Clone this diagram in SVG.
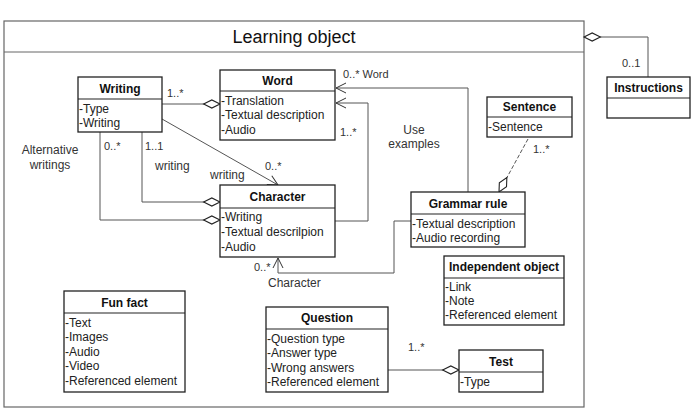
<svg xmlns="http://www.w3.org/2000/svg" width="695" height="412" viewBox="0 0 695 412">
<style>
text{font-family:"Liberation Sans",Arial,sans-serif;fill:#222}
.t{font-size:12px;font-weight:bold;text-anchor:middle;fill:#111}
.a{font-size:12px}
.l{font-size:12px;fill:#333}
.n{font-size:11px;fill:#333}
.box{fill:#fff;stroke:#222;stroke-width:1.3}
.div{stroke:#222;stroke-width:1.1}
.c{fill:none;stroke:#555;stroke-width:1}
</style>
<defs>
<marker id="dia" markerUnits="userSpaceOnUse" markerWidth="20" markerHeight="10" refX="18" refY="4.5" orient="auto" viewBox="-1 -1 20 11">
<path d="M0,4.5 L9,0 L18,4.5 L9,9 Z" fill="#fff" stroke="#222" stroke-width="1.2"/>
</marker>
<marker id="arr" markerUnits="userSpaceOnUse" markerWidth="12" markerHeight="12" refX="10" refY="5" orient="auto" viewBox="-1 -1 12 12">
<path d="M0,0 L10,5 L0,10" fill="none" stroke="#333" stroke-width="1"/>
</marker>
</defs>
<rect width="695" height="412" fill="#fff"/>
<g id="frame">
<rect x="4" y="21" width="580" height="386" fill="none" stroke="#666" stroke-width="1.2"/>
<line x1="4" y1="52" x2="584" y2="52" stroke="#666" stroke-width="1"/>
<text x="294" y="43" style="font-size:18px;text-anchor:middle;fill:#111">Learning object</text>
</g>
<g id="connectors">
<path class="c" d="M162,104 H220" marker-end="url(#dia)"/>
<path class="c" d="M142,132 V202 H220" marker-end="url(#dia)"/>
<path class="c" d="M100,132 V220 H220" marker-end="url(#dia)"/>
<path class="c" d="M162,119 L278,185" marker-end="url(#arr)"/>
<path class="c" d="M335,221 H368 V103 H336" marker-end="url(#arr)"/>
<path class="c" d="M468,192 V88 H336" marker-end="url(#arr)"/>
<path class="c" d="M411,221 H394 V273 H278 V258" marker-end="url(#arr)"/>
<path class="c" d="M528,139 L499,192" stroke-dasharray="4,2" marker-end="url(#dia)"/>
<path class="c" d="M388,370 H459" marker-end="url(#dia)"/>
<path class="c" d="M648,77 V37 H584" marker-end="url(#dia)"/>
<text class="n" x="167" y="97">1..*</text>
<text class="n" x="104" y="150">0..*</text>
<text class="n" x="145" y="150">1..1</text>
<text class="l" x="155" y="170">writing</text>
<text class="l" x="210" y="179">writing</text>
<text class="n" x="265" y="170">0..*</text>
<text class="l" x="50" y="154" text-anchor="middle">Alternative</text>
<text class="l" x="50" y="169" text-anchor="middle">writings</text>
<text class="n" x="343" y="78">0..* Word</text>
<text class="n" x="340" y="136">1..*</text>
<text class="l" x="414" y="134" text-anchor="middle">Use</text>
<text class="l" x="414" y="148" text-anchor="middle">examples</text>
<text class="n" x="533" y="153">1..*</text>
<text class="n" x="254" y="271">0..*</text>
<text class="l" x="268" y="287">Character</text>
<text class="n" x="622" y="67">0..1</text>
<text class="n" x="408" y="351">1..*</text>
</g>
<g id="writing">
<rect class="box" x="78" y="77" width="84" height="55"/>
<line class="div" x1="78" y1="99" x2="162" y2="99"/>
<text class="t" x="120" y="93">Writing</text>
<text class="a" x="79" y="113">-Type</text>
<text class="a" x="79" y="127">-Writing</text>
</g>
<g id="word">
<rect class="box" x="220" y="70" width="115" height="70"/>
<line class="div" x1="220" y1="91" x2="335" y2="91"/>
<text class="t" x="277.5" y="85">Word</text>
<text class="a" x="221" y="105">-Translation</text>
<text class="a" x="221" y="119">-Textual description</text>
<text class="a" x="221" y="134">-Audio</text>
</g>
<g id="character">
<rect class="box" x="220" y="185" width="115" height="72"/>
<line class="div" x1="220" y1="208" x2="335" y2="208"/>
<text class="t" x="277.5" y="201">Character</text>
<text class="a" x="221" y="221">-Writing</text>
<text class="a" x="221" y="236">-Textual descrilpion</text>
<text class="a" x="221" y="251">-Audio</text>
</g>
<g id="sentence">
<rect class="box" x="487" y="97" width="85" height="40"/>
<line class="div" x1="487" y1="117" x2="572" y2="117"/>
<text class="t" x="529.5" y="111">Sentence</text>
<text class="a" x="488" y="131">-Sentence</text>
</g>
<g id="grammar-rule">
<rect class="box" x="411" y="192" width="114" height="55"/>
<line class="div" x1="411" y1="214" x2="525" y2="214"/>
<text class="t" x="468" y="208">Grammar rule</text>
<text class="a" x="412" y="228">-Textual description</text>
<text class="a" x="412" y="242">-Audio recording</text>
</g>
<g id="instructions">
<rect class="box" x="607" y="77" width="83" height="41"/>
<line class="div" x1="607" y1="98" x2="690" y2="98"/>
<text class="t" x="648.5" y="92">Instructions</text>
</g>
<g id="independent-object">
<rect class="box" x="444" y="256" width="120" height="69"/>
<line class="div" x1="444" y1="278" x2="564" y2="278"/>
<text class="t" x="504" y="271">Independent object</text>
<text class="a" x="445" y="291">-Link</text>
<text class="a" x="445" y="305">-Note</text>
<text class="a" x="445" y="319">-Referenced element</text>
</g>
<g id="fun-fact">
<rect class="box" x="64" y="291" width="121" height="101"/>
<line class="div" x1="64" y1="313" x2="185" y2="313"/>
<text class="t" x="124.5" y="307">Fun fact</text>
<text class="a" x="65" y="327">-Text</text>
<text class="a" x="65" y="341">-Images</text>
<text class="a" x="65" y="356">-Audio</text>
<text class="a" x="65" y="370">-Video</text>
<text class="a" x="65" y="385">-Referenced element</text>
</g>
<g id="question">
<rect class="box" x="266" y="307" width="122" height="85"/>
<line class="div" x1="266" y1="329" x2="388" y2="329"/>
<text class="t" x="327" y="322">Question</text>
<text class="a" x="267" y="343">-Question type</text>
<text class="a" x="267" y="357">-Answer type</text>
<text class="a" x="267" y="372">-Wrong answers</text>
<text class="a" x="267" y="386">-Referenced element</text>
</g>
<g id="test">
<rect class="box" x="459" y="350" width="84" height="42"/>
<line class="div" x1="459" y1="372" x2="543" y2="372"/>
<text class="t" x="501" y="366">Test</text>
<text class="a" x="460" y="386">-Type</text>
</g>
</svg>
